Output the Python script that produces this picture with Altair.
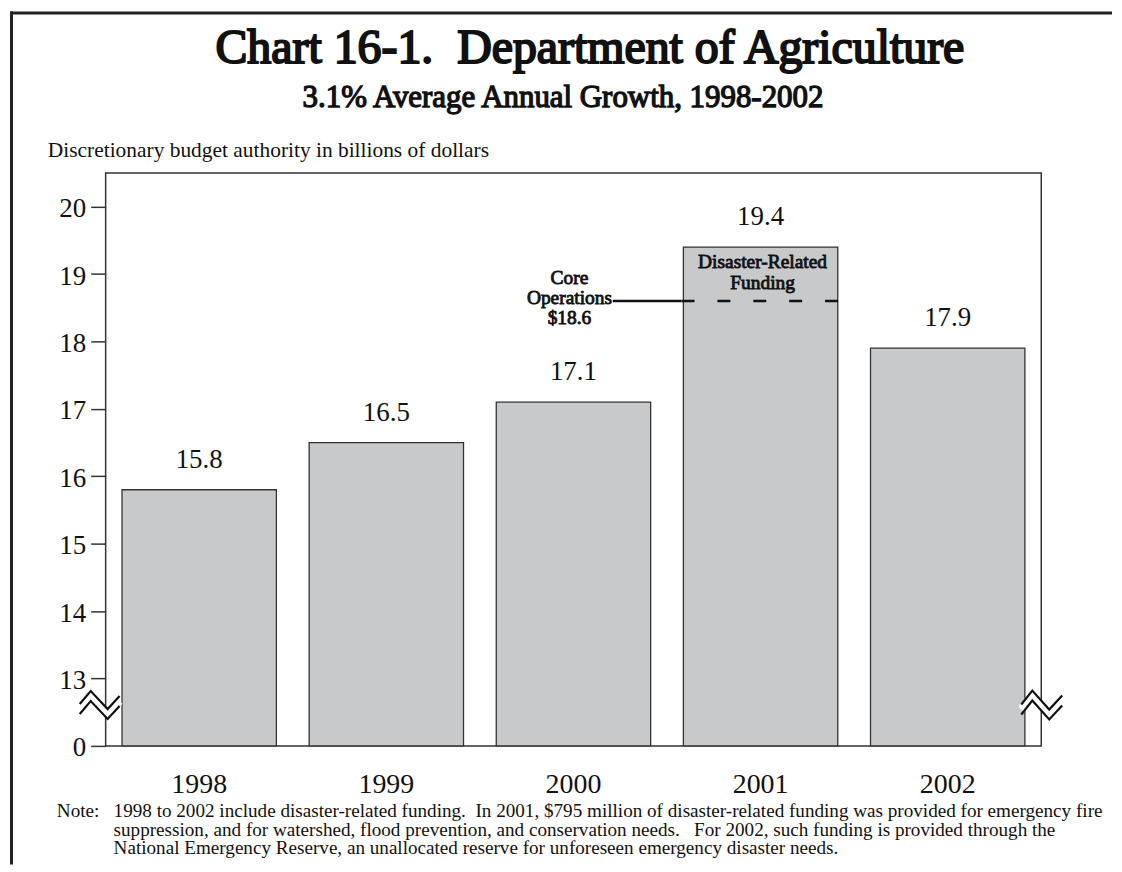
import altair as alt
import pandas as pd

# ---- data ----
years = ["1998", "1999", "2000", "2001", "2002"]
values = [15.8, 16.5, 17.1, 19.4, 17.9]
value_labels = ["15.8", "16.5", "17.1", "19.4", "17.9"]
core_2001 = 18.6          # core operations level in 2001
axis_break = 12           # values are drawn relative to 12 (broken axis)
tick_values = [0, 1, 2, 3, 4, 5, 6, 7, 8]
tick_labels = ["0", "13", "14", "15", "16", "17", "18", "19", "20"]

title_text = "Chart 16-1.\u00a0 Department of Agriculture"
subtitle_text = "3.1% Average Annual Growth, 1998-2002"
ytitle_text = "Discretionary budget authority in billions of dollars"
note_label = "Note:"
note_lines = [
    "1998 to 2002 include disaster-related funding.\u00a0 In 2001, $795 million of disaster-related funding was provided for emergency fire",
    "suppression, and for watershed, flood prevention, and conservation needs.\u00a0\u00a0 For 2002, such funding is provided through the",
    "National Emergency Reserve, an unallocated reserve for unforeseen emergency disaster needs.",
]
core_lines = ["Core", "Operations", "$18.6"]
disaster_lines = ["Disaster-Related", "Funding"]

# axis-break zigzag (decoration, in pixels relative to plot origin)
zig_left_x = [-26, -15, 2, 14]
zig_left_y = [538, 525, 543, 530]
zig_right_x = [919, 930, 947, 960]
zig_right_y = [538.5, 524.5, 543.5, 529.5]

FONT = "Liberation Serif"
INK = "#111"
W, H = 939, 575
YDOM = [0, 8.5]

df = pd.DataFrame({"year": years, "value": values, "label": value_labels})
lab_expr = "{" + ",".join(f"'{v}':'{t}'" for v, t in zip(tick_values, tick_labels)) + "}[datum.value]"

base = alt.Chart(df).transform_calculate(shifted=f"datum.value - {axis_break}")

xenc = alt.X("year:N", sort=years,
             scale=alt.Scale(paddingInner=0.175, paddingOuter=0.0875),
             axis=alt.Axis(title=None, labelAngle=0, ticks=False, domain=False,
                           labelFont=FONT, labelFontSize=28, labelColor=INK,
                           labelBaseline="alphabetic", labelPadding=47))
yscale = alt.Scale(domain=YDOM, nice=False, zero=False)

bars = base.mark_bar(fill="#c8c9cb", stroke="#333", strokeWidth=1.3).encode(
    x=xenc,
    y=alt.Y("shifted:Q", scale=yscale,
            axis=alt.Axis(title=None, values=tick_values, labelExpr=lab_expr,
                          grid=False, domain=False, tickSize=15, tickWidth=1.5,
                          tickColor="#333", labelPadding=5, labelFont=FONT,
                          labelFontSize=27, labelColor=INK,
                          labelBaseline="middle", labelOffset=2)),
)

labels = base.mark_text(font=FONT, fontSize=27, color=INK, baseline="alphabetic", dy=-22).encode(
    x=alt.X("year:N", sort=years), y=alt.Y("shifted:Q", scale=yscale), text="label:N")

one = pd.DataFrame({"k": [0]})
core_shift = core_2001 - axis_break

core_solid = alt.Chart(one).mark_rule(color=INK, strokeWidth=2.5).encode(
    x=alt.value(509), x2=alt.value(578), y=alt.datum(core_shift, scale=yscale))
core_dash = alt.Chart(one).mark_rule(color=INK, strokeWidth=2.5, strokeDash=[13, 23]).encode(
    x=alt.value(578), x2=alt.value(735), y=alt.datum(core_shift, scale=yscale))

# bold look: regular serif face with a thin outline
core_text = alt.Chart(one).mark_text(text=core_lines, font=FONT, fontSize=19.5, color=INK,
                                     stroke=INK, strokeWidth=0.85,
                                     baseline="alphabetic", lineHeight=20, dy=-17, dx=-4).encode(
    x=alt.datum("2000"), y=alt.datum(core_shift, scale=yscale))
dis_text = alt.Chart(one).mark_text(text=disaster_lines, font=FONT, fontSize=19.5, color=INK,
                                    stroke=INK, strokeWidth=0.85,
                                    baseline="alphabetic", lineHeight=21, dy=21, dx=2).encode(
    x=alt.datum("2001"), y=alt.datum(values[3] - axis_break, scale=yscale))

def txt(text, x, y, size, bold=False, align="center", line_height=None):
    props = dict(text=text, font=FONT, fontSize=size, color=INK, align=align, baseline="alphabetic")
    if bold:
        props.update(stroke=INK, strokeWidth=round(size * 0.042, 2))
    if line_height:
        props["lineHeight"] = line_height
    return alt.Chart(one).mark_text(**props).encode(x=alt.value(x), y=alt.value(y))

title = txt(title_text, 486, -110, 48, bold=True)
subtitle = txt(subtitle_text, 459, -66, 31, bold=True)
ytitle = txt(ytitle_text, -58, -16, 21.5, align="left")
note0 = txt(note_label, -49, 646, 19.2, align="left")
note1 = txt(note_lines, 8, 646, 19.2, align="left", line_height=19)

frame_top = alt.Chart(one).mark_rule(color="#222", strokeWidth=3).encode(
    x=alt.value(-96), x2=alt.value(1010), y=alt.value(-160.5))
frame_left = alt.Chart(one).mark_rule(color="#222", strokeWidth=3).encode(
    x=alt.value(-94.5), y=alt.value(-162), y2=alt.value(694))

main = alt.layer(bars, labels, core_solid, core_dash, core_text, dis_text,
                 title, subtitle, ytitle, note0, note1, frame_top, frame_left)

rows = []
for side, xs, ys in (("L", zig_left_x, zig_left_y), ("R", zig_right_x, zig_right_y)):
    for i, (px, py) in enumerate(zip(xs, ys)):
        rows.append({"g": side + "m", "kind": "mid", "o": i, "px": px, "py": py})
        rows.append({"g": side + "t", "kind": "edge", "o": i, "px": px, "py": py - 5})
        rows.append({"g": side + "b", "kind": "edge", "o": i, "px": px, "py": py + 5})
zdf = pd.DataFrame(rows)

zig_white = alt.Chart(zdf).transform_filter("datum.kind == 'mid'").mark_line(
    color="white", strokeWidth=8, strokeCap="butt", strokeJoin="miter").encode(
    x=alt.X("px:Q", scale=None, axis=None), y=alt.Y("py:Q", scale=None, axis=None),
    detail="g:N", order="o:Q")
zig_black = alt.Chart(zdf).transform_filter("datum.kind == 'edge'").mark_line(
    color=INK, strokeWidth=2.2, strokeJoin="miter").encode(
    x=alt.X("px:Q", scale=None, axis=None), y=alt.Y("py:Q", scale=None, axis=None),
    detail="g:N", order="o:Q")

chart = alt.layer(main, zig_white, zig_black).resolve_scale(x="independent", y="independent").properties(
    width=W, height=H, padding=0, background="white"
).configure_view(stroke="#333", strokeWidth=1.5)

chart.save("out.html", embed_options={"renderer": "svg", "actions": False})
